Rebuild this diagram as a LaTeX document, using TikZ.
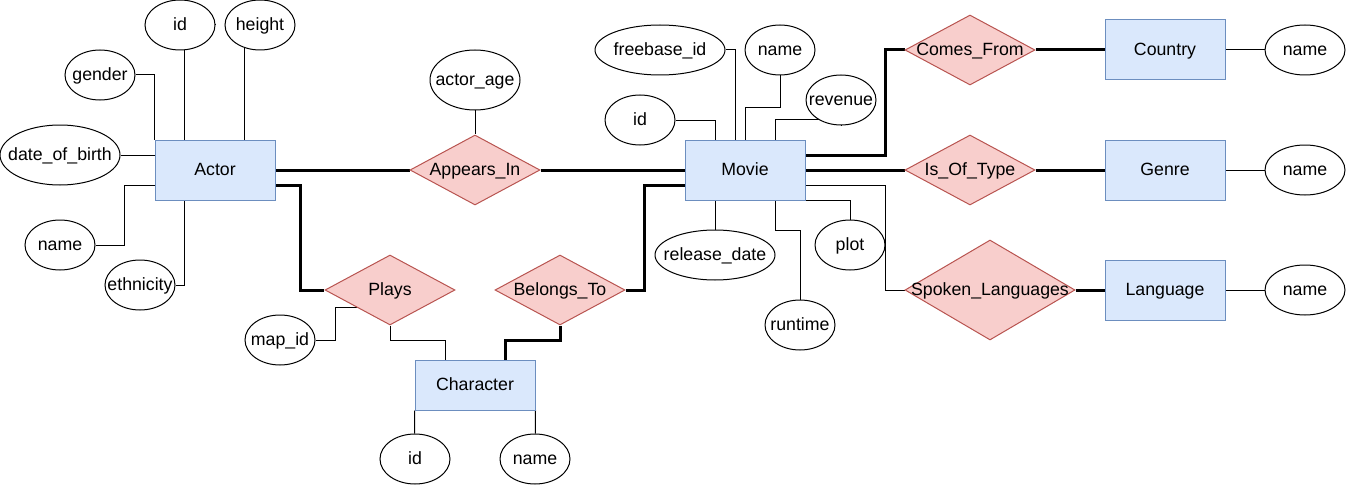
\documentclass[tikz,border=0pt]{standalone}
\usepackage{fontspec}
\setmainfont{Liberation Sans}
\usetikzlibrary{shapes.geometric,calc}
\pgfdeclarelayer{bg}
\pgfsetlayers{bg,main}
\definecolor{entf}{HTML}{DAE8FC}
\definecolor{entb}{HTML}{6C8EBF}
\definecolor{relf}{HTML}{F8CECC}
\definecolor{relb}{HTML}{B85450}
\newcommand{\lb}[1]{\makebox[0pt]{#1}}
\begin{document}
\begin{tikzpicture}[x=0.75pt,y=-0.75pt,
  every node/.style={font=\fontsize{13.3pt}{15pt}\selectfont, inner sep=0pt, line width=0.75pt, text height=0.96em, text depth=0.2em},
  ent/.style={rectangle, draw=entb, fill=entf, minimum width=90pt, minimum height=45pt},
  rel/.style={diamond, draw=relb, fill=relf, minimum width=97.5pt, minimum height=52.5pt},
  att/.style={ellipse, draw=black, fill=white, minimum width=52.5pt, minimum height=37.5pt},
  thn/.style={draw=black, line width=0.75pt},
  thk/.style={draw=black, line width=2.25pt}]
\useasboundingbox (0,0) rectangle (1346,485);
% entities
\node[ent] (Actor) at (215,170) {\lb{Actor}};
\node[ent] (Movie) at (745,170) {\lb{Movie}};
\node[ent, minimum height=37.5pt] (Character) at (475,385) {\lb{Character}};
\node[ent] (Country) at (1165,50) {\lb{Country}};
\node[ent] (Genre) at (1165,170) {\lb{Genre}};
\node[ent] (Language) at (1165,290) {\lb{Language}};
% relationships
\node[rel] (Appears) at (475,170) {\lb{Appears\_In}};
\node[rel] (Plays) at (390,290) {\lb{Plays}};
\node[rel] (Belongs) at (560,290) {\lb{Belongs\_To}};
\node[rel] (Comes) at (970,50) {\lb{Comes\_From}};
\node[rel] (IsOf) at (970,170) {\lb{Is\_Of\_Type}};
\node[rel, minimum width=127.5pt, minimum height=75pt] (Spoken) at (990,290) {\lb{Spoken\_Languages}};
% actor attributes
\node[att] (aid) at (180,25) {\lb{id}};
\node[att] (aheight) at (260,25) {\lb{height}};
\node[att] (gender) at (100,75) {\lb{gender}};
\node[att, minimum width=90pt, minimum height=45pt] (dob) at (60,155) {\lb{date\_of\_birth}};
\node[att] (aname) at (60,245) {\lb{name}};
\node[att] (ethn) at (140,285) {\lb{ethnicity}};
% relationship attributes
\node[att, minimum width=67.5pt, minimum height=45pt] (age) at (475,80) {\lb{actor\_age}};
\node[att] (mapid) at (280,340) {\lb{map\_id}};
% character attributes
\node[att] (cid) at (415,459) {\lb{id}};
\node[att] (cname) at (535,459) {\lb{name}};
% movie attributes
\node[att, minimum width=97.5pt] (fbid) at (660,50) {\lb{freebase\_id}};
\node[att] (mname) at (780,50) {\lb{name}};
\node[att] (rev) at (841,100) {\lb{revenue}};
\node[att] (mid) at (640,120) {\lb{id}};
\node[att, minimum width=90pt] (rdate) at (715,255) {\lb{release\_date}};
\node[att] (plot) at (850,245) {\lb{plot}};
\node[att] (runtime) at (800,325) {\lb{runtime}};
% other attributes
\node[att, minimum width=60pt] (cnname) at (1305,50) {\lb{name}};
\node[att, minimum width=60pt] (gname) at (1305,170) {\lb{name}};
\node[att, minimum width=60pt] (lname) at (1305,290) {\lb{name}};
\begin{pgfonlayer}{bg}
% actor attribute links
\draw[thn] (gender) -| (Actor.north west);
\draw[thn] (Actor.north west) ++(30,0) |- (aid);
\draw[thn] (Actor.north west) ++(90,0) |- (aheight);
\draw[thn] (dob) -- (dob -| Actor.west);
\draw[thn] (aname) -| ([xshift=-22.5pt,yshift=-11.25pt]Actor.west) -- ([yshift=-11.25pt]Actor.west);
\draw[thn] (ethn) -| ([xshift=22.5pt]Actor.south west);
% relationships
\draw[thk] (Actor) -- (Appears);
\draw[thk] (Appears) -- (Movie);
\draw[thn] (age) -- (Appears);
\draw[thk] ([yshift=-11.25pt]Actor.east) -- ++(25,0) |- (Plays);
\draw[thn] (mapid) -- ++(55,0) |- (Plays.south west);
\draw[thn] (Plays.south) -- ++(0,15) -| ([xshift=-22.5pt]Character.north);
\draw[thk] (Belongs.south) -- ++(0,15) -| ([xshift=22.5pt]Character.north);
\draw[thk] ([yshift=-11.25pt]Movie.west) -- ++(-40,0) |- (Belongs);
\draw[thn] (Character.south west) -- (cid);
\draw[thn] (Character.south east) -- (cname);
% movie attribute links
\draw[thn] (fbid) -| ([xshift=-7.5pt]Movie.north);
\draw[thn] (mname) -- ++(0,58) -| (Movie.north);
\draw[thn] ([xshift=22.5pt]Movie.north) -- ++(0,-20) -| (rev);
\draw[thn] (mid) -| ([xshift=-22.5pt]Movie.north);
\draw[thn] ([xshift=-22.5pt]Movie.south) -- (rdate);
\draw[thn] (Movie.south east) -| (plot);
\draw[thn] ([xshift=22.5pt]Movie.south) -- ++(0,30) -| (runtime);
\draw[thn] ([yshift=-11.25pt]Movie.east) -- ++(80,0) |- (Spoken);
\draw[thk] ([yshift=11.25pt]Movie.east) -- ++(80,0) |- (Comes);
\draw[thk] (Movie) -- (IsOf);
\draw[thk] (Comes) -- (Country);
\draw[thk] (IsOf) -- (Genre);
\draw[thk] (Spoken) -- (Language);
\draw[thn] (Country) -- (cnname);
\draw[thn] (Genre) -- (gname);
\draw[thn] (Language) -- (lname);
\end{pgfonlayer}
\end{tikzpicture}
\end{document}
